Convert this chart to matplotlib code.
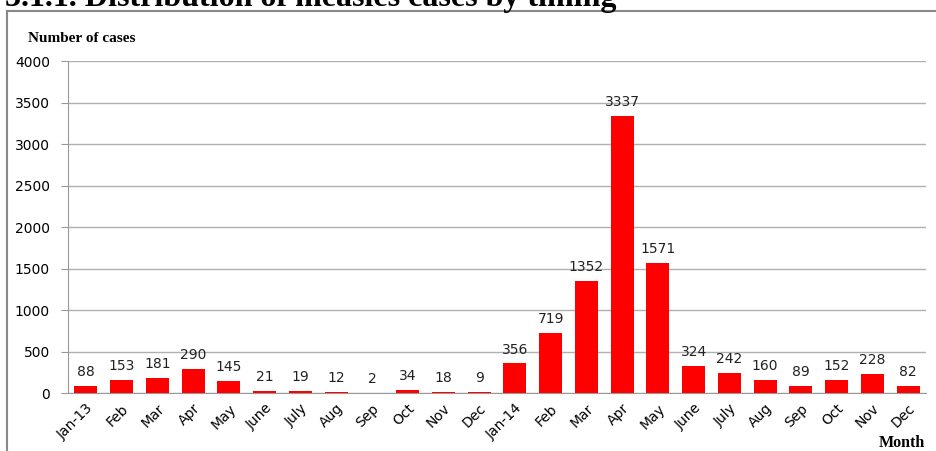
import matplotlib
matplotlib.use("Agg")
import matplotlib.pyplot as plt
from matplotlib.lines import Line2D

months = ["Jan-13", "Feb", "Mar", "Apr", "May", "June", "July", "Aug", "Sep",
          "Oct", "Nov", "Dec", "Jan-14", "Feb", "Mar", "Apr", "May", "June",
          "July", "Aug", "Sep", "Oct", "Nov", "Dec"]
cases = [88, 153, 181, 290, 145, 21, 19, 12, 2, 34, 18, 9,
         356, 719, 1352, 3337, 1571, 324, 242, 160, 89, 152, 228, 82]
y_ticks = [0, 500, 1000, 1500, 2000, 2500, 3000, 3500, 4000]

fig = plt.figure(figsize=(9.37, 4.51), dpi=100)
ax = fig.add_axes([0.0726, 0.1286, 0.9157, 0.7361])

x = range(len(cases))
ax.bar(x, cases, width=0.64, color="#ff0000", zorder=3)
for xi, v in zip(x, cases):
    ax.annotate(str(v), (xi, v), xytext=(0, 5), textcoords="offset points",
                ha="center", va="bottom", fontsize=10, color="#222222")

ax.set_xlim(-0.5, len(cases) - 0.5)
ax.set_ylim(0, 4000)
ax.set_yticks(y_ticks)
ax.set_xticks(list(x))
ax.set_xticklabels(months, rotation=45, ha="right", rotation_mode="anchor",
                   fontsize=10)
ax.tick_params(axis="y", labelsize=10, length=5, color="#999999", pad=8)
ax.tick_params(axis="x", length=0, pad=6)
ax.grid(axis="y", color="#b0b0b0", linewidth=1, zorder=0)

for side in ["top", "right"]:
    ax.spines[side].set_visible(False)
ax.spines["left"].set_color("#999999")
ax.spines["bottom"].set_color("#999999")

fig.text(28 / 937, 1 - 38 / 451, "Number of cases", fontsize=11,
         fontweight="bold", family="Liberation Serif", va="center")
fig.text(925 / 937, 1 - 443 / 451, "Month", fontsize=11.5,
         fontweight="bold", family="Liberation Serif", ha="right", va="center")

# heading sits partly above the top edge
fig.text(5 / 937, 1 - 6 / 451, "3.1.1. Distribution of measles cases by timing",
         fontsize=23, fontweight="bold", family="Liberation Serif", va="baseline")

# frame round the chart area
fig.add_artist(Line2D([7 / 937, 7 / 937], [0, 1 - 11 / 451],
                      transform=fig.transFigure, color="#888888", linewidth=1.5))
fig.add_artist(Line2D([7 / 937, 1], [1 - 11 / 451, 1 - 11 / 451],
                      transform=fig.transFigure, color="#888888", linewidth=1.5))

fig.savefig("out.png", dpi=100)
